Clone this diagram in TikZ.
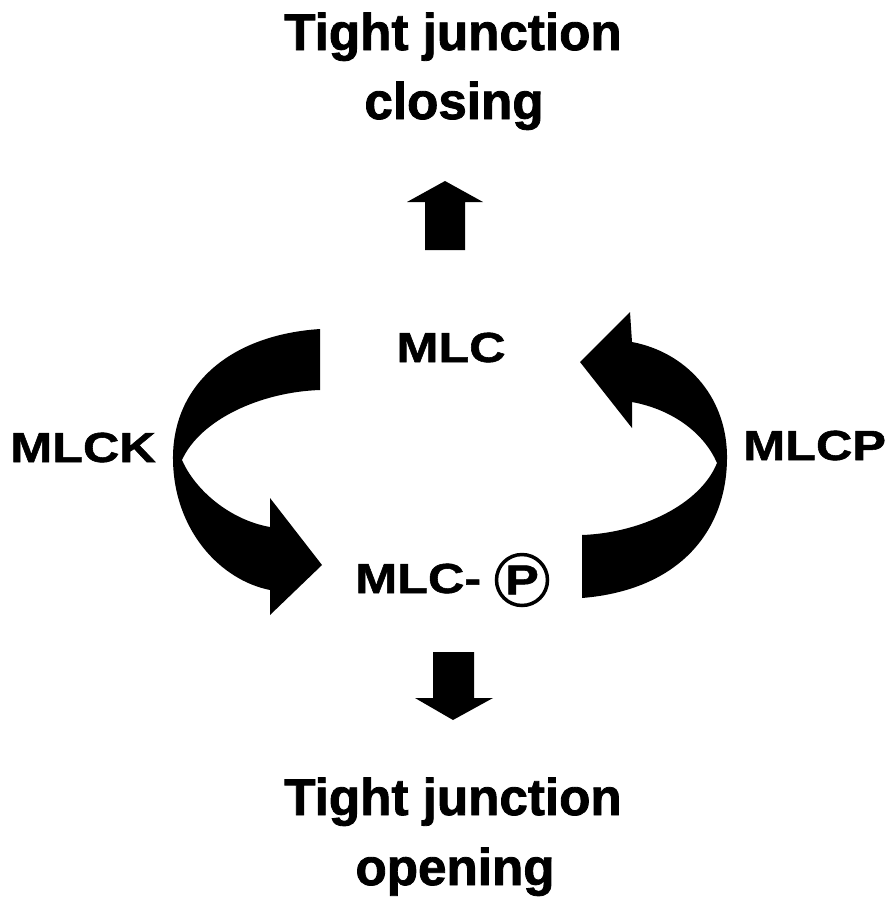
\documentclass[tikz,border=0pt]{standalone}
\usepackage{fontspec}
\newfontfamily\titlefont{Liberation Sans}[UprightFont=* Bold,FakeStretch=0.99,FakeBold=1.6]
\newfontfamily\labelfont{Liberation Sans}[UprightFont=* Bold,FakeStretch=1.2,FakeBold=1.3]
\tikzset{
  ttl/.style={inner sep=0pt,anchor=base,font=\titlefont\fontsize{51.7}{60}\selectfont},
  lbl/.style={inner sep=0pt,font=\labelfont\fontsize{42}{44}\selectfont},
  blk/.style={fill=black}
}
\begin{document}
\begin{tikzpicture}[x=1pt,y=-1pt]
    \fill[white] (0,0) rectangle (895,898);
    \useasboundingbox (0,0) rectangle (895,898);
    % texts
    \node[ttl] (tjtop) at (453,50) {Tight junction};
    \node[ttl] (closing) at (454,119) {closing};
    \node[ttl] (tjbot) at (453,815) {Tight junction};
    \node[ttl] (opening) at (455,885) {opening};
    \node[lbl,anchor=base] (mlc) at (451,362) {MLC};
    \node[lbl,anchor=base west] (mlck) at (10,462) {MLCK};
    \node[lbl,anchor=base west] (mlcp) at (743,460) {MLCP};
    \node[lbl,anchor=base west] (mlcph) at (355,593) {MLC-};
    \node[lbl,draw,circle,line width=3.5pt,minimum size=51pt] (pcirc) at (522,580) {P};
    % straight block arrows
    \fill[blk] (425,250) -- (425,202) -- (407,202) -- (445,181)
      -- (483,202) -- (465,202) -- (465,250) -- cycle;
    \fill[blk] (433,652) -- (474,652) -- (474,698) -- (493,698)
      -- (453,720) -- (415,698) -- (433,698) -- cycle;
    % curved ribbon arrows
    \fill[blk] (320,329) .. controls (230,335) and (172,385) .. (173,460)
      .. controls (174,530) and (220,580) .. (270,590) -- (270,615)
      -- (322,565) -- (270,498) -- (270,527)
      .. controls (230,520) and (195,490) .. (182,460)
      .. controls (200,420) and (260,392) .. (320,390) -- cycle;
    \fill[blk] (582,598) .. controls (680,590) and (728,530) .. (727,455)
      .. controls (726,395) and (685,352) .. (632,342) -- (630,312)
      -- (580,362) -- (632,428) -- (632,402)
      .. controls (675,410) and (705,435) .. (717,463)
      .. controls (700,505) and (640,533) .. (582,535) -- cycle;
\end{tikzpicture}
\end{document}
